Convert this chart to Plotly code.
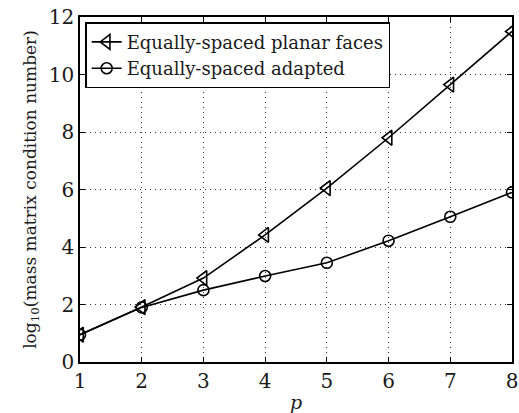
import plotly.graph_objects as go

p = [1, 2, 3, 4, 5, 6, 7, 8]
planar_faces = [0.95, 1.91, 2.92, 4.42, 6.05, 7.8, 9.65, 11.5]
adapted = [0.95, 1.9, 2.5, 2.99, 3.45, 4.22, 5.05, 5.9]

x_ticks = [1, 2, 3, 4, 5, 6, 7, 8]
y_ticks = [0, 2, 4, 6, 8, 10, 12]

FONT = "DejaVu Serif"
INK = "#1a1a1a"

fig = go.Figure()
fig.add_trace(go.Scatter(
    x=p, y=planar_faces, mode="lines+markers",
    name="Equally-spaced planar faces",
    line=dict(color="black", width=1.6),
    marker=dict(symbol="triangle-left-open", size=13, color="black",
                line=dict(width=1.6)),
))
fig.add_trace(go.Scatter(
    x=p, y=adapted, mode="lines+markers",
    name="Equally-spaced adapted",
    line=dict(color="black", width=1.6),
    marker=dict(symbol="circle-open", size=11, color="black",
                line=dict(width=1.6)),
))

axis_common = dict(
    showline=True, linecolor="black", linewidth=1.5, mirror="ticks",
    ticks="inside", ticklen=5, tickcolor="black",
    showgrid=True, gridcolor="#333", griddash="1px,4px", gridwidth=1,
    zeroline=False, tickfont=dict(family=FONT, size=20, color=INK),
)

fig.update_xaxes(range=[1, 8], tickvals=x_ticks, ticklabeloverflow="allow",
                 title=dict(text="<i>p</i>", font=dict(family=FONT, size=19, color=INK),
                            standoff=4),
                 **axis_common)
fig.update_yaxes(range=[0, 12], tickvals=y_ticks,
                 title=dict(text="log<sub>10</sub>(mass matrix condition number)",
                            font=dict(family=FONT, size=17, color=INK), standoff=8),
                 **axis_common)

fig.update_layout(
    width=519, height=413,
    margin=dict(l=80, r=1, t=17, b=51),
    paper_bgcolor="white", plot_bgcolor="white",
    font=dict(family=FONT),
    showlegend=True,
    legend=dict(x=0.012, y=0.985, xanchor="left", yanchor="top",
                bgcolor="white", bordercolor="black", borderwidth=1.5,
                font=dict(family=FONT, size=18, color=INK),
                tracegroupgap=0, itemwidth=30, entrywidth=300),
)

fig.write_html("out.html")
